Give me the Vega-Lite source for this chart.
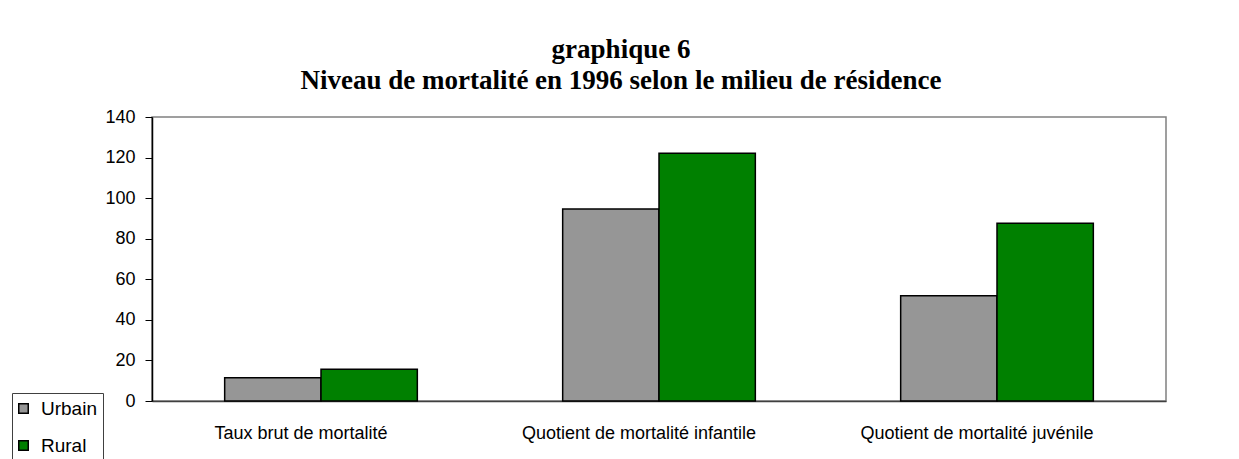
{
  "$schema": "https://vega.github.io/schema/vega-lite/v6.json",
  "autosize": "none",
  "padding": {"left": 152, "top": 117, "right": 73, "bottom": 58},
  "width": 1014,
  "height": 284,
  "background": "white",
  "title": {
    "text": ["graphique 6", "Niveau de mortalité en 1996 selon le milieu de résidence"],
    "font": "Liberation Serif",
    "fontSize": 27,
    "fontWeight": "bold",
    "color": "black",
    "lineHeight": 31,
    "anchor": "middle",
    "dx": -38,
    "offset": 13
  },
  "data": {
    "values": [
      {"indicateur": "Taux brut de mortalité", "milieu": "Urbain", "valeur": 11.5},
      {"indicateur": "Taux brut de mortalité", "milieu": "Rural", "valeur": 15.6},
      {"indicateur": "Quotient de mortalité infantile", "milieu": "Urbain", "valeur": 94.7},
      {"indicateur": "Quotient de mortalité infantile", "milieu": "Rural", "valeur": 122.1},
      {"indicateur": "Quotient de mortalité juvénile", "milieu": "Urbain", "valeur": 51.9},
      {"indicateur": "Quotient de mortalité juvénile", "milieu": "Rural", "valeur": 87.6}
    ]
  },
  "mark": {"type": "bar", "stroke": "black", "strokeWidth": 1.5},
  "encoding": {
    "x": {
      "field": "indicateur",
      "type": "nominal",
      "sort": null,
      "scale": {"paddingInner": 0.43, "paddingOuter": 0.215},
      "axis": {
        "title": null,
        "labelAngle": 0,
        "ticks": false,
        "labelPadding": 23,
        "labelOffset": -20,
        "labelLimit": 0,
        "labelFont": "Liberation Sans",
        "labelFontSize": 18,
        "labelColor": "black",
        "domainColor": "#404040",
        "domainWidth": 1.5
      }
    },
    "xOffset": {"field": "milieu", "type": "nominal", "sort": ["Urbain", "Rural"]},
    "y": {
      "field": "valeur",
      "type": "quantitative",
      "scale": {"domain": [0, 140]},
      "axis": {
        "title": null,
        "values": [0, 20, 40, 60, 80, 100, 120, 140],
        "grid": false,
        "tickSize": 7,
        "tickColor": "black",
        "labelPadding": 10,
        "labelFont": "Liberation Sans",
        "labelFontSize": 18,
        "labelColor": "black",
        "domainColor": "black",
        "domainWidth": 1.5
      }
    },
    "color": {
      "field": "milieu",
      "type": "nominal",
      "sort": ["Urbain", "Rural"],
      "scale": {"domain": ["Urbain", "Rural"], "range": ["#969696", "#008000"]},
      "legend": {
        "title": null,
        "orient": "none",
        "legendX": -140,
        "legendY": 276,
        "symbolType": "square",
        "symbolSize": 90,
        "symbolOffset": -4,
        "symbolStrokeColor": "black",
        "symbolStrokeWidth": 1.5,
        "labelFont": "Liberation Sans",
        "labelFontSize": 19,
        "labelColor": "black",
        "labelOffset": 8,
        "rowPadding": 17,
        "padding": 6,
        "strokeColor": "#404040",
        "fillColor": "white"
      }
    }
  },
  "config": {
    "view": {"stroke": "#808080", "strokeWidth": 1.5}
  }
}
